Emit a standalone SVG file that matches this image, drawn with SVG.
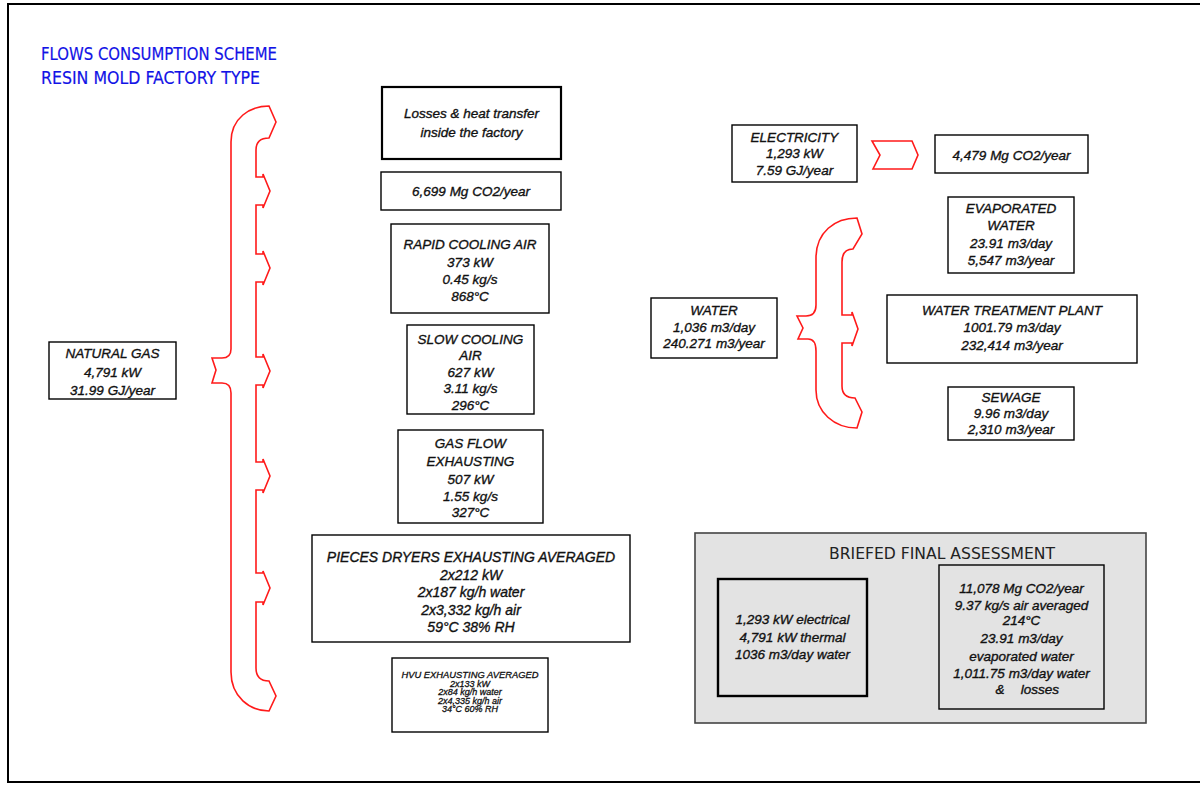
<svg xmlns="http://www.w3.org/2000/svg" width="1200" height="785" viewBox="0 0 1200 785">
  <style>
    .frame { fill: none; stroke: #000; stroke-width: 2; }
    .box { fill: #fff; stroke: #000; stroke-width: 1.4; }
    .box-heavy { fill: #fff; stroke: #000; stroke-width: 2.2; }
    .gbox { fill: #e3e3e3; stroke: #000; stroke-width: 1.4; }
    .gbox-heavy { fill: #e3e3e3; stroke: #000; stroke-width: 2.4; }
    .panel { fill: #e3e3e3; stroke: #444; stroke-width: 1.6; }
    .flow { fill: none; stroke: #ff1a1a; stroke-width: 1.6; stroke-linejoin: miter; }
    .flow-m { fill: none; stroke: #ff10ff; stroke-width: 1.6; }
    .t { font-family: "Liberation Sans", Arial, sans-serif; font-style: italic; font-size: 13.5px; fill: #111; stroke: #111; stroke-width: 0.35; text-anchor: middle; }
    .tl { font-size: 14px; }
    .ts { font-size: 9px; stroke-width: 0.3; }
    .title { font-family: "DejaVu Sans", sans-serif; font-size: 17.5px; fill: #1212e6; stroke: #1212e6; stroke-width: 0.2; }
    .ptitle { font-family: "DejaVu Sans", sans-serif; font-size: 16.5px; fill: #222; text-anchor: middle; }
  </style>

  <rect class="frame" x="8" y="4" width="1200" height="778"/>

  <g id="title">
    <text class="title" x="41" y="60" textLength="236" lengthAdjust="spacingAndGlyphs">FLOWS CONSUMPTION SCHEME</text>
    <text class="title" x="41" y="84" textLength="219" lengthAdjust="spacingAndGlyphs">RESIN MOLD FACTORY TYPE</text>
  </g>

  <!-- flow connectors: split pipes and arrows -->
  <g id="connectors">
    <path id="gas-split" class="flow" d="M269,106 C250,106 231,118 231,142 L231,349 Q231,358 222,358 L212,358 L216,370 L212,383 L222,383 Q231,383 231,393 L231,672 C231,697 250,711 269,711 L276,696 L269,681 Q256,681 256,668
      L256,602 L263,602 L263,605 L270,588 L263,571 L263,573 L256,573
      L256,490 L263,490 L263,493 L270,476 L263,459 L263,462 L256,462
      L256,385 L263,385 L263,388 L270,371 L263,354 L263,357 L256,357
      L256,282 L263,282 L263,285 L270,268 L263,251 L263,254 L256,254
      L256,205 L263,205 L263,208 L270,191 L263,174 L263,177 L256,177
      L256,150 Q256,138 269,138 L276,122 Z"/>
    <path id="water-split" class="flow" d="M857,218 C835,218 816,232 816,258 L816,305 Q816,316 806,316 L797,316 L803,328 L798,339 L808,339 Q816,339 816,351 L816,390 C816,412 834,428 857,428 L862,412 L855,398 Q842,398 842,386
      L842,343 L852,343 L852,346 L858,329 L852,312 L852,315 L842,315
      L842,262 Q842,249 853,249 L862,234 Z"/>
    <polygon id="elec-arrow" class="flow" points="872,141 912,141 918,155 912,169 873,169 880,155"/>
    <polygon id="summary-arrow" class="flow-m" points="881,621 921,620 928,635 921,651 881,650 887,635"/>
  </g>

  <g id="natural-gas">
    <rect class="box" x="49" y="342" width="127" height="57"/>
    <text class="t" x="112.5" y="358">NATURAL GAS</text>
    <text class="t" x="112.5" y="377">4,791 kW</text>
    <text class="t" x="112.5" y="395">31.99 GJ/year</text>
  </g>

  <g id="losses">
    <rect class="box-heavy" x="382" y="87" width="179" height="72"/>
    <text class="t" x="471.5" y="118">Losses &amp; heat transfer</text>
    <text class="t" x="471.5" y="137">inside the factory</text>
  </g>

  <g id="co2-gas">
    <rect class="box" x="381" y="172" width="180" height="38"/>
    <text class="t" x="471" y="196">6,699 Mg CO2/year</text>
  </g>

  <g id="rapid-cooling">
    <rect class="box" x="391" y="224" width="158" height="89"/>
    <text class="t" x="470" y="249">RAPID COOLING AIR</text>
    <text class="t" x="470" y="267">373 kW</text>
    <text class="t" x="470" y="284">0.45 kg/s</text>
    <text class="t" x="470" y="301">868°C</text>
  </g>

  <g id="slow-cooling">
    <rect class="box" x="407" y="325" width="127" height="89"/>
    <text class="t" x="470.5" y="344">SLOW COOLING</text>
    <text class="t" x="470.5" y="360">AIR</text>
    <text class="t" x="470.5" y="377">627 kW</text>
    <text class="t" x="470.5" y="393">3.11 kg/s</text>
    <text class="t" x="470.5" y="410">296°C</text>
  </g>

  <g id="gas-exhaust">
    <rect class="box" x="398" y="430" width="145" height="93"/>
    <text class="t" x="470.5" y="448">GAS FLOW</text>
    <text class="t" x="470.5" y="466">EXHAUSTING</text>
    <text class="t" x="470.5" y="484">507 kW</text>
    <text class="t" x="470.5" y="501">1.55 kg/s</text>
    <text class="t" x="470.5" y="517">327°C</text>
  </g>

  <g id="dryers">
    <rect class="box" x="312" y="535" width="318" height="107"/>
    <text class="t tl" x="471" y="562">PIECES DRYERS EXHAUSTING AVERAGED</text>
    <text class="t tl" x="471" y="579.5">2x212 kW</text>
    <text class="t tl" x="471" y="597">2x187 kg/h water</text>
    <text class="t tl" x="471" y="614.5">2x3,332 kg/h air</text>
    <text class="t tl" x="471" y="632">59°C 38% RH</text>
  </g>

  <g id="hvu-exhaust">
    <rect class="box" x="392" y="658" width="156" height="74"/>
    <text class="t ts" x="470" y="678" textLength="137" lengthAdjust="spacingAndGlyphs">HVU EXHAUSTING AVERAGED</text>
    <text class="t ts" x="470" y="686.5">2x133 kW</text>
    <text class="t ts" x="470" y="695">2x84 kg/h water</text>
    <text class="t ts" x="470" y="703.5">2x4,335 kg/h air</text>
    <text class="t ts" x="470" y="712">34°C 60% RH</text>
  </g>

  <g id="electricity">
    <rect class="box" x="732" y="125" width="125" height="57"/>
    <text class="t" x="794.5" y="142">ELECTRICITY</text>
    <text class="t" x="794.5" y="158">1,293 kW</text>
    <text class="t" x="794.5" y="175">7.59 GJ/year</text>
  </g>

  <g id="co2-electricity">
    <rect class="box" x="935" y="135" width="153" height="38"/>
    <text class="t" x="1011.5" y="160">4,479 Mg CO2/year</text>
  </g>

  <g id="water">
    <rect class="box" x="651" y="298" width="126" height="60"/>
    <text class="t" x="714" y="315">WATER</text>
    <text class="t" x="714" y="332">1,036 m3/day</text>
    <text class="t" x="714" y="348">240.271 m3/year</text>
  </g>

  <g id="evaporated">
    <rect class="box" x="948" y="197" width="126" height="76"/>
    <text class="t" x="1011" y="213">EVAPORATED</text>
    <text class="t" x="1011" y="230">WATER</text>
    <text class="t" x="1011" y="248">23.91 m3/day</text>
    <text class="t" x="1011" y="265">5,547 m3/year</text>
  </g>

  <g id="treatment">
    <rect class="box" x="887" y="295" width="250" height="68"/>
    <text class="t" x="1012" y="315">WATER TREATMENT PLANT</text>
    <text class="t" x="1012" y="332">1001.79 m3/day</text>
    <text class="t" x="1012" y="350">232,414 m3/year</text>
  </g>

  <g id="sewage">
    <rect class="box" x="948" y="387" width="126" height="53"/>
    <text class="t" x="1011" y="402">SEWAGE</text>
    <text class="t" x="1011" y="418">9.96 m3/day</text>
    <text class="t" x="1011" y="434">2,310 m3/year</text>
  </g>

  <g id="assessment">
    <rect class="panel" x="695" y="533" width="451" height="190"/>
    <text class="ptitle" x="942" y="559" textLength="226" lengthAdjust="spacingAndGlyphs">BRIEFED FINAL ASSESSMENT</text>
  </g>

  <g id="inputs-total">
    <rect class="gbox-heavy" x="718" y="579" width="149" height="117"/>
    <text class="t" x="792.5" y="624">1,293 kW electrical</text>
    <text class="t" x="792.5" y="642">4,791 kW thermal</text>
    <text class="t" x="792.5" y="659">1036 m3/day water</text>
  </g>

  <g id="outputs-total">
    <rect class="gbox" x="939" y="565" width="165" height="144"/>
    <text class="t" x="1021.5" y="593">11,078 Mg CO2/year</text>
    <text class="t" x="1021.5" y="610">9.37 kg/s air averaged</text>
    <text class="t" x="1021.5" y="625">214°C</text>
    <text class="t" x="1021.5" y="643">23.91 m3/day</text>
    <text class="t" x="1021.5" y="661">evaporated water</text>
    <text class="t" x="1021.5" y="678">1,011.75 m3/day water</text>
    <text class="t" x="1000" y="694">&amp;</text>
    <text class="t" x="1040" y="694">losses</text>
  </g>
</svg>
